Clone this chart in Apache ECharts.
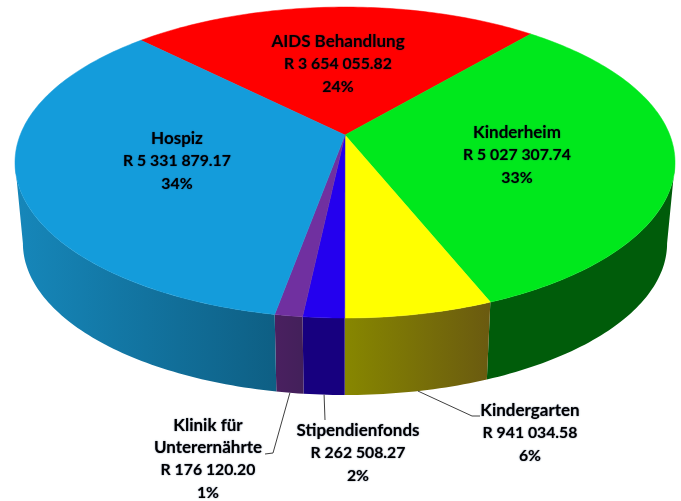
<!DOCTYPE html>
<html>
<head>
<meta charset="utf-8">
<style>
  html, body { margin: 0; padding: 0; background: #fff; }
  #chart { width: 681px; height: 501px; }
</style>
<script src="https://cdn.jsdelivr.net/npm/echarts@6/dist/echarts.min.js"></script>
</head>
<body>
<div id="chart"></div>
<script>
const names = ['AIDS Behandlung', 'Kinderheim', 'Kindergarten', 'Stipendienfonds', 'Klinik für\nUnterernährte', 'Hospiz']
const values = [3654055.82, 5027307.74, 941034.58, 262508.27, 176120.20, 5331879.17]
const percents = ['24%', '33%', '6%', '2%', '1%', '34%']

const topColors = ['#ff0000', '#00e81c', '#ffff00', '#2400ee', '#7030a0', '#149cdb']
// left and right end of each slice's wall
const sideColors = [
  ['#990000', '#990000'],
  ['#005c0a', '#005c0a'],
  ['#878700', '#6a5a10'],
  ['#17007f', '#17007f'],
  ['#4a2060', '#43205a'],
  ['#1687ba', '#0e5f84']
]

// label centres and leader line elbows, in pixels
const labelPos = [[338, 64], [517, 155], [530, 433], [358, 453], [208, 459], [177, 161]]
const leaders = [null, null, [[472, 416], [480, 416]], [[325, 420]], [[273, 453], [265, 454]], null]

// perspective of the tilted disc
const cx = 345, cy = 135, rx = 324.8, ry = 150.6, tilt = 0.177
const bottomScale = 0.976, depth = 81.4
const startAngle = -45
const silhouette = [100.2, 259.8]

const total = values.reduce((a, b) => a + b, 0)
const spans = []
let acc = startAngle
values.forEach((v) => {
  spans.push([acc, acc + (v / total) * 360])
  acc += (v / total) * 360
})

const money = (v) => {
  const [whole, cents] = v.toFixed(2).split('.')
  return 'R ' + whole.replace(/\B(?=(\d{3})+$)/g, ' ') + '.' + cents
}

// angle is clockwise from the back of the disc
const topPoint = (deg) => {
  const a = (deg * Math.PI) / 180
  const u = Math.sin(a), v = -Math.cos(a)
  const w = 1 - tilt * v
  return [cx + (rx * u) / w, cy + (ry * v) / w]
}
const bottomPoint = (deg) => {
  const p = topPoint(deg)
  return [cx + (p[0] - cx) * bottomScale, cy + depth + (p[1] - cy) * bottomScale]
}
const sample = (from, to, fn) => {
  const n = Math.max(2, Math.ceil(Math.abs(to - from)))
  const pts = []
  for (let i = 0; i <= n; i++) pts.push(fn(from + ((to - from) * i) / n))
  return pts
}

const labelText = (i) => {
  const nameLines = names[i].split('\n').map((s) => '{n|' + s + '}')
  return nameLines.concat('{v|' + money(values[i]) + '}', '{v|' + percents[i] + '}').join('\n')
}
const halo = { textShadowColor: 'rgba(0,20,70,0.6)', textShadowBlur: 1.5 }

const renderSlice = (params) => {
  const i = params.dataIndex
  const [from, to] = spans[i]
  const children = []

  const a = Math.max(from, silhouette[0])
  const b = Math.min(to, silhouette[1])
  if (b > a) {
    children.push({
      type: 'polygon',
      shape: { points: sample(a, b, topPoint).concat(sample(b, a, bottomPoint)) },
      style: {
        fill: new echarts.graphic.LinearGradient(0, 0, 1, 0, [
          { offset: 0, color: sideColors[i][0] },
          { offset: 1, color: sideColors[i][1] }
        ]),
        stroke: null
      }
    })
  }

  children.push({
    type: 'polygon',
    shape: { points: [[cx, cy]].concat(sample(from, to, topPoint)) },
    style: { fill: topColors[i], stroke: topColors[i], lineWidth: 0.5 },
    z2: 2
  })

  if (leaders[i]) {
    const mid = (from + to) / 2
    children.push({
      type: 'polyline',
      shape: { points: [bottomPoint(mid)].concat(leaders[i]) },
      style: { fill: null, stroke: '#404040', lineWidth: 1 },
      z2: 3
    })
  }

  children.push({
    type: 'text',
    z2: 5,
    style: {
      text: labelText(i),
      x: labelPos[i][0],
      y: labelPos[i][1],
      align: 'center',
      verticalAlign: 'middle',
      fontFamily: 'Lato',
      fontWeight: 'bold',
      fill: '#000',
      rich: {
        n: { fontFamily: 'Lato', fontWeight: 'bold', fontSize: 17, lineHeight: 22.5, fill: '#000', ...halo },
        v: { fontFamily: 'Lato', fontWeight: 'bold', fontSize: 15.8, lineHeight: 22.5, fill: '#000', ...halo }
      }
    }
  })

  return { type: 'group', children }
}

const chart = echarts.init(document.getElementById('chart'))
chart.setOption({
  animation: false,
  backgroundColor: '#fff',
  series: [
    {
      type: 'custom',
      coordinateSystem: 'none',
      renderItem: renderSlice,
      data: values.map((v, i) => [i, v])
    }
  ]
})
</script>
</body>
</html>
